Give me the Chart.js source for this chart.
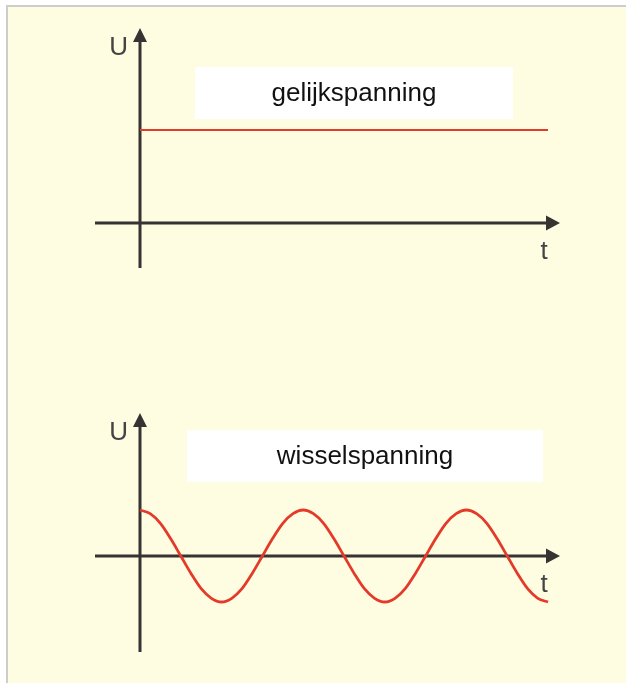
<!DOCTYPE html>
<html>
<head>
<meta charset="utf-8">
<script src="https://cdn.jsdelivr.net/npm/chart.js@4/dist/chart.umd.min.js"></script>
<style>
  html, body { margin: 0; padding: 0; background: #fff; }
  body { width: 626px; height: 683px; position: relative; overflow: hidden; }
  #paper {
    position: absolute; left: 6px; top: 5px; right: 0; bottom: 0;
    background: #fefde2;
    border-left: 2px solid #cdcdcd; border-top: 2px solid #cdcdcd;
  }
  canvas { position: absolute; left: 0; }
  #gelijk { top: 0; }
  #wissel { top: 300px; }
</style>
</head>
<body>
<div id="paper"></div>
<canvas id="gelijk" width="626" height="300"></canvas>
<canvas id="wissel" width="626" height="383"></canvas>
<script>
// gelijkspanning: constant voltage
const tijdDC = [0, 10]
const spanningDC = [1, 1]

// wisselspanning: 2.5 periods, read every 1/16 period
const tijdAC = [0, 0.0625, 0.125, 0.1875, 0.25, 0.3125, 0.375, 0.4375,
                0.5, 0.5625, 0.625, 0.6875, 0.75, 0.8125, 0.875, 0.9375,
                1, 1.0625, 1.125, 1.1875, 1.25, 1.3125, 1.375, 1.4375,
                1.5, 1.5625, 1.625, 1.6875, 1.75, 1.8125, 1.875, 1.9375,
                2, 2.0625, 2.125, 2.1875, 2.25, 2.3125, 2.375, 2.4375, 2.5]
const spanningAC = [1, 0.92, 0.71, 0.38, 0, -0.38, -0.71, -0.92,
                    -1, -0.92, -0.71, -0.38, 0, 0.38, 0.71, 0.92,
                    1, 0.92, 0.71, 0.38, 0, -0.38, -0.71, -0.92,
                    -1, -0.92, -0.71, -0.38, 0, 0.38, 0.71, 0.92,
                    1, 0.92, 0.71, 0.38, 0, -0.38, -0.71, -0.92, -1]

const titels = ['gelijkspanning', 'wisselspanning']
const asLabels = { y: 'U', x: 't' }

const ROOD = 'rgb(228, 58, 42)'
const AS = '#363333'
const FONT = '"Liberation Sans", Arial, sans-serif'

function toPoints(xs, ys) {
    return xs.map((x, i) => ({ x: x, y: ys[i] }))
}

// draws the two arrowed axes through the origin, plus labels and title box
const assen = {
    id: 'assen',
    beforeDatasetsDraw(chart) {
        const ctx = chart.ctx
        const a = chart.chartArea
        const x0 = chart.scales.x.getPixelForValue(0)
        const y0 = chart.scales.y.getPixelForValue(0)
        ctx.save()
        ctx.strokeStyle = AS
        ctx.fillStyle = AS
        ctx.lineWidth = 3
        ctx.beginPath()
        ctx.moveTo(a.left, y0)
        ctx.lineTo(a.right - 10, y0)
        ctx.moveTo(x0, a.bottom)
        ctx.lineTo(x0, a.top + 10)
        ctx.stroke()
        // arrow heads
        ctx.beginPath()
        ctx.moveTo(a.right, y0)
        ctx.lineTo(a.right - 14, y0 - 7.5)
        ctx.lineTo(a.right - 14, y0 + 7.5)
        ctx.closePath()
        ctx.moveTo(x0, a.top)
        ctx.lineTo(x0 - 7, a.top + 14)
        ctx.lineTo(x0 + 7, a.top + 14)
        ctx.closePath()
        ctx.fill()
        ctx.restore()
    },
    afterDatasetsDraw(chart, args, opts) {
        const ctx = chart.ctx
        const a = chart.chartArea
        const x0 = chart.scales.x.getPixelForValue(0)
        const y0 = chart.scales.y.getPixelForValue(0)
        ctx.save()
        ctx.fillStyle = '#444'
        ctx.font = '26px ' + FONT
        ctx.textBaseline = 'middle'
        ctx.textAlign = 'right'
        ctx.fillText(asLabels.y, x0 - 12, a.top + 20)
        ctx.textAlign = 'center'
        ctx.fillText(asLabels.x, a.right - 16, y0 + 29)

        const b = opts.box
        ctx.fillStyle = '#fff'
        ctx.fillRect(b.x, b.y, b.w, b.h)
        ctx.fillStyle = '#111'
        ctx.font = '26px ' + FONT
        ctx.textAlign = 'center'
        ctx.fillText(opts.title, b.x + b.w / 2, b.y + b.h / 2 + 1)
        ctx.restore()
    }
}

function maakGrafiek(id, data, bereik, lijnDikte, box, title, padding) {
    return new Chart(document.getElementById(id), {
        type: 'line',
        data: {
            datasets: [{
                data: data,
                borderColor: ROOD,
                borderWidth: lijnDikte,
                pointRadius: 0,
                cubicInterpolationMode: 'monotone',
                fill: false
            }]
        },
        options: {
            responsive: false,
            animation: false,
            devicePixelRatio: 1,
            layout: { padding: padding },
            plugins: {
                legend: { display: false },
                tooltip: { enabled: false },
                assen: { box: box, title: title }
            },
            scales: {
                x: { type: 'linear', display: false, min: bereik.xmin, max: bereik.xmax },
                y: { type: 'linear', display: false, min: bereik.ymin, max: bereik.ymax }
            }
        },
        plugins: [assen]
    })
}

maakGrafiek('gelijk', toPoints(tijdDC, spanningDC),
    { xmin: -1.103, xmax: 10.294, ymin: -0.484, ymax: 2.097 },
    2.2,
    { x: 195, y: 67, w: 318, h: 52 },
    titels[0],
    { left: 95, right: 66, top: 28, bottom: 32 })

maakGrafiek('wissel', toPoints(tijdAC, spanningAC),
    { xmin: -0.2757, xmax: 2.5735, ymin: -2.087, ymax: 3.109 },
    2.8,
    { x: 187, y: 130, w: 356, h: 52 },
    titels[1],
    { left: 95, right: 66, top: 113, bottom: 31 })
</script>
</body>
</html>
